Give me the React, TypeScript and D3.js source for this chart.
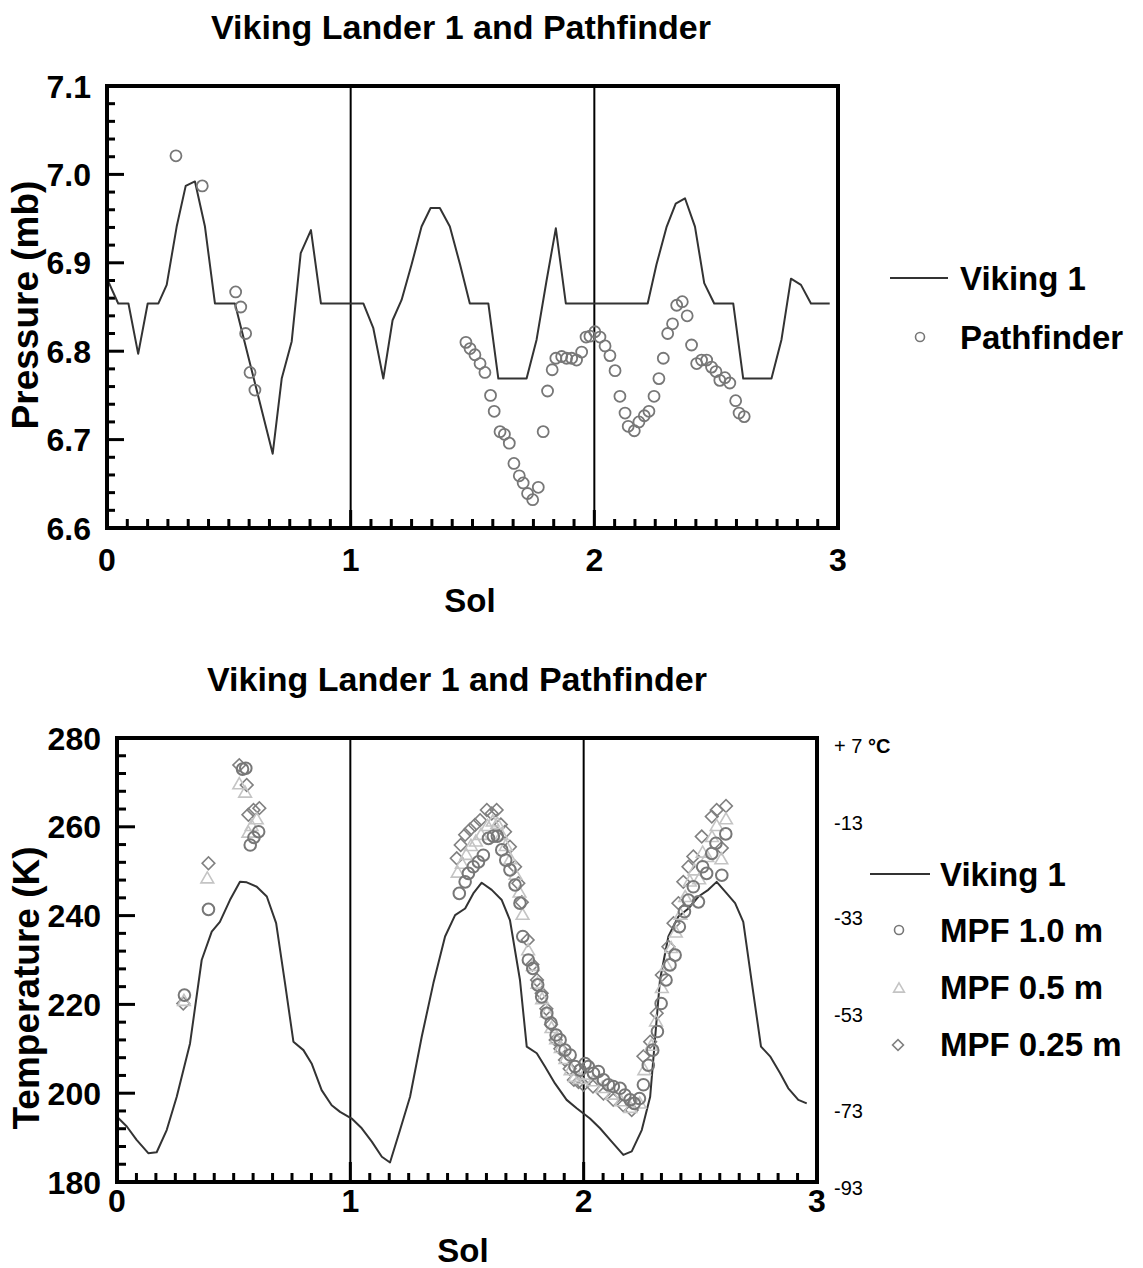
import React from 'react';
import * as d3 from 'd3';

// ---------- data ----------
const solTicks = [0, 1, 2, 3];
const pressureTicks = [6.6, 6.7, 6.8, 6.9, 7.0, 7.1];
const tempTicks = [180, 200, 220, 240, 260, 280];
const celsiusLabels = ['+ 7', '-13', '-33', '-53', '-73', '-93'];
const celsiusAnchorK = [276.6, 259.3, 237.9, 216.0, 194.4, 177.1];

const vikingPressure: [number, number][] = [
  [0, 6.882], [0.046, 6.854], [0.088, 6.854], [0.128, 6.797], [0.167, 6.854], [0.211, 6.854],
  [0.245, 6.875], [0.286, 6.941], [0.323, 6.987], [0.361, 6.992], [0.402, 6.941], [0.443, 6.854],
  [0.525, 6.854], [0.68, 6.684], [0.717, 6.769], [0.758, 6.811], [0.795, 6.911], [0.837, 6.937],
  [0.878, 6.854], [1.052, 6.854], [1.093, 6.826], [1.134, 6.769], [1.172, 6.835], [1.209, 6.858],
  [1.25, 6.898], [1.291, 6.941], [1.328, 6.962], [1.366, 6.962], [1.407, 6.941], [1.449, 6.898],
  [1.489, 6.854], [1.565, 6.854], [1.606, 6.769], [1.722, 6.769], [1.763, 6.813], [1.804, 6.88],
  [1.842, 6.939], [1.883, 6.854], [2.219, 6.854], [2.255, 6.898], [2.297, 6.941], [2.334, 6.967],
  [2.372, 6.973], [2.413, 6.941], [2.451, 6.877], [2.492, 6.854], [2.57, 6.854], [2.611, 6.769],
  [2.727, 6.769], [2.768, 6.813], [2.807, 6.882], [2.848, 6.875], [2.889, 6.854], [2.966, 6.854],
];

const pathfinderPressure: [number, number][] = [
  [0.283, 7.021], [0.391, 6.987], [0.528, 6.867], [0.549, 6.85], [0.569, 6.82], [0.587, 6.776], [0.607, 6.756],
  [1.473, 6.81], [1.49, 6.803], [1.51, 6.796], [1.531, 6.786], [1.551, 6.776], [1.574, 6.75], [1.589, 6.732],
  [1.613, 6.709], [1.631, 6.706], [1.651, 6.696], [1.67, 6.673], [1.692, 6.659], [1.708, 6.651], [1.726, 6.639],
  [1.747, 6.632], [1.77, 6.646], [1.79, 6.709], [1.808, 6.755], [1.827, 6.779], [1.842, 6.792], [1.866, 6.794],
  [1.886, 6.792], [1.907, 6.792], [1.927, 6.79], [1.948, 6.799], [1.966, 6.816], [1.982, 6.817], [2.002, 6.822],
  [2.023, 6.816], [2.044, 6.806], [2.064, 6.795], [2.085, 6.778], [2.105, 6.749], [2.126, 6.73], [2.139, 6.715],
  [2.164, 6.71], [2.183, 6.72], [2.205, 6.727], [2.224, 6.732], [2.245, 6.749], [2.265, 6.769], [2.283, 6.792],
  [2.301, 6.82], [2.321, 6.831], [2.338, 6.852], [2.361, 6.856], [2.381, 6.84], [2.399, 6.807], [2.42, 6.786],
  [2.44, 6.79], [2.461, 6.79], [2.481, 6.782], [2.499, 6.777], [2.515, 6.767], [2.536, 6.77], [2.556, 6.764],
  [2.58, 6.744], [2.594, 6.73], [2.615, 6.726],
];

const vikingTemp: [number, number][] = [
  [0, 194.7], [0.042, 192.5], [0.084, 189.5], [0.134, 186.5], [0.17, 186.7], [0.213, 191.7], [0.256, 199.2],
  [0.313, 211.2], [0.363, 230.0], [0.406, 236.4], [0.441, 238.6], [0.484, 243.5], [0.527, 247.6], [0.556, 247.5],
  [0.599, 246.5], [0.642, 244.3], [0.682, 238.3], [0.72, 224.8], [0.756, 211.6], [0.799, 209.7], [0.834, 206.7],
  [0.877, 200.7], [0.92, 197.3], [0.956, 195.8], [1.006, 194.3], [1.049, 192.1], [1.092, 189.1], [1.135, 185.7],
  [1.17, 184.4], [1.213, 191.7], [1.256, 199.2], [1.306, 212.7], [1.356, 224.8], [1.406, 235.3], [1.449, 240.1],
  [1.492, 241.6], [1.527, 245.0], [1.563, 247.4], [1.606, 245.8], [1.649, 243.5], [1.684, 239.0], [1.727, 225.5],
  [1.756, 210.5], [1.799, 209.0], [1.834, 206.0], [1.877, 202.2], [1.927, 198.5], [1.97, 196.6], [2.027, 194.3],
  [2.07, 192.1], [2.12, 189.1], [2.17, 186.1], [2.206, 186.9], [2.249, 191.7], [2.285, 199.2], [2.327, 225.5],
  [2.363, 235.3], [2.406, 239.8], [2.449, 241.6], [2.492, 244.3], [2.534, 245.8], [2.57, 247.6], [2.613, 245.0],
  [2.649, 242.8], [2.684, 238.6], [2.721, 224.8], [2.76, 210.5], [2.799, 208.3], [2.842, 204.5], [2.877, 201.1],
  [2.92, 198.5], [2.956, 197.7],
];

const mpf100: [number, number][] = [
  [0.289, 222.1], [0.392, 241.4], [0.538, 273.0], [0.552, 273.2], [0.571, 255.9], [0.587, 257.6], [0.607, 258.9],
  [1.467, 245.0], [1.492, 247.6], [1.506, 249.5], [1.527, 251.0], [1.549, 252.1], [1.57, 253.6], [1.592, 257.4],
  [1.613, 257.9], [1.63, 257.9], [1.649, 254.8], [1.666, 252.5], [1.684, 250.3], [1.706, 246.9], [1.727, 242.8],
  [1.739, 235.3], [1.763, 230.0], [1.782, 228.1], [1.803, 224.4], [1.82, 221.7], [1.842, 218.0], [1.86, 215.8],
  [1.882, 213.1], [1.899, 212.0], [1.92, 209.7], [1.942, 208.6], [1.963, 206.0], [1.985, 205.2], [2.006, 206.7],
  [2.02, 206.0], [2.042, 204.5], [2.063, 204.9], [2.085, 203.0], [2.106, 201.9], [2.127, 201.5], [2.156, 201.1],
  [2.177, 199.6], [2.199, 198.5], [2.217, 197.7], [2.239, 198.8], [2.256, 201.9], [2.277, 206.3], [2.296, 209.7],
  [2.316, 213.9], [2.332, 220.2], [2.353, 225.5], [2.37, 228.9], [2.392, 231.1], [2.41, 237.5], [2.432, 240.9],
  [2.449, 243.5], [2.47, 246.5], [2.492, 243.1], [2.51, 251.0], [2.527, 249.5], [2.549, 254.0], [2.567, 256.3],
  [2.592, 249.1], [2.609, 258.4],
];

const mpf050: [number, number][] = [
  [0.287, 220.6], [0.387, 248.2], [0.524, 269.4], [0.549, 267.5], [0.563, 258.5], [0.577, 260.0], [0.599, 261.5],
  [1.46, 249.5], [1.478, 251.5], [1.497, 253.5], [1.517, 255.5], [1.538, 256.5], [1.56, 258.0], [1.588, 260.0],
  [1.61, 261.0], [1.63, 260.5], [1.648, 258.0], [1.666, 255.5], [1.686, 252.5], [1.708, 249.0], [1.725, 245.0],
  [1.738, 240.0], [1.762, 232.0], [1.782, 228.5], [1.802, 224.5], [1.822, 221.0], [1.842, 218.0], [1.862, 214.5],
  [1.882, 212.0], [1.902, 210.0], [1.922, 207.5], [1.944, 205.0], [1.962, 203.5], [1.982, 203.0], [2.002, 204.0],
  [2.04, 202.5], [2.08, 201.0], [2.12, 199.5], [2.16, 198.0], [2.2, 196.5], [2.24, 197.5], [2.26, 205.0],
  [2.29, 210.5], [2.31, 216.0], [2.335, 223.5], [2.355, 228.5], [2.375, 232.5], [2.395, 236.0], [2.415, 240.0],
  [2.435, 244.0], [2.455, 247.5], [2.475, 250.0], [2.495, 248.0], [2.51, 254.0], [2.53, 253.0], [2.55, 257.5],
  [2.57, 260.0], [2.59, 252.5], [2.61, 261.5],
];

const mpf025: [number, number][] = [
  [0.284, 220.2], [0.392, 251.8], [0.524, 273.9], [0.556, 269.4], [0.563, 262.7], [0.585, 263.8], [0.61, 264.2],
  [1.456, 252.9], [1.473, 255.9], [1.492, 258.2], [1.513, 259.4], [1.534, 260.4], [1.556, 261.5], [1.585, 263.8],
  [1.606, 263.0], [1.627, 263.8], [1.645, 260.5], [1.663, 258.9], [1.684, 255.5], [1.706, 251.0], [1.72, 247.3],
  [1.735, 243.0], [1.76, 234.5], [1.78, 229.0], [1.8, 225.5], [1.82, 222.5], [1.84, 219.0], [1.86, 215.5],
  [1.88, 212.0], [1.9, 210.0], [1.92, 207.5], [1.94, 205.5], [1.958, 203.0], [1.978, 202.5], [1.999, 201.9],
  [2.04, 201.5], [2.085, 199.9], [2.127, 198.5], [2.17, 197.3], [2.206, 196.2], [2.256, 208.3], [2.285, 211.6],
  [2.313, 218.0], [2.335, 226.6], [2.363, 233.0], [2.385, 238.3], [2.406, 242.8], [2.427, 247.6], [2.449, 251.0],
  [2.47, 253.3], [2.506, 257.8], [2.549, 262.3], [2.57, 263.8], [2.592, 255.2], [2.61, 264.7],
];

// ---------- helpers ----------
const FONT = "'Liberation Sans', Arial, Helvetica, sans-serif";
const range = (a: number, b: number, step: number) => d3.range(a, b + step / 2, step).map((v) => +v.toFixed(4));

export default function App() {
  // top chart scales
  const xT = d3.scaleLinear().domain([0, 3]).range([107, 838]);
  const yT = d3.scaleLinear().domain([6.6, 7.1]).range([528, 86]);
  // bottom chart scales
  const xB = d3.scaleLinear().domain([0, 3]).range([117, 817]);
  const yB = d3.scaleLinear().domain([180, 280]).range([1182, 738]);

  const lineT = d3.line<[number, number]>().x((d) => xT(d[0])).y((d) => yT(d[1]));
  const lineB = d3.line<[number, number]>().x((d) => xB(d[0])).y((d) => yB(d[1]));

  const triPath = d3.symbol().type(d3.symbolTriangle).size(70)() as string;
  const diaPath = d3.symbol().type(d3.symbolSquare).size(80)() as string;
  const triLegend = d3.symbol().type(d3.symbolTriangle).size(50)() as string;
  const diaLegend = d3.symbol().type(d3.symbolSquare).size(60)() as string;

  const xMinor = range(0, 3, 1 / 12).filter((v) => v > 0 && v < 3);
  const pMinor = range(6.6, 7.1, 0.02).filter((v) => v > 6.6 && v < 7.1);
  const tMinor = range(180, 280, 4).filter((v) => v > 180 && v < 280);

  const isMajorSol = (v: number) => Math.abs(v - Math.round(v)) < 1e-6;
  const isMajorP = (v: number) => Math.abs(v * 10 - Math.round(v * 10)) < 1e-6;
  const isMajorT = (v: number) => v % 20 === 0;

  const textBold = { fontFamily: FONT, fontWeight: 700 as const, fill: '#000' };

  return (
    <svg width={1143} height={1268} style={{ position: 'absolute', left: 0, top: 0, background: '#fff' }}>
      <rect x={0} y={0} width={1143} height={1268} fill="#fff" />

      {/* ================= TOP CHART ================= */}
      <text x={461} y={39} textAnchor="middle" fontSize={34} {...textBold}>Viking Lander 1 and Pathfinder</text>

      {[1, 2].map((s) => (
        <line key={'vt' + s} x1={xT(s)} x2={xT(s)} y1={yT(7.1)} y2={yT(6.6)} stroke="#000" strokeWidth={2} />
      ))}

      {xMinor.map((v) => (
        <line key={'xt' + v} x1={xT(v)} x2={xT(v)} y1={yT(6.6)} y2={yT(6.6) - (isMajorSol(v) ? 18 : 9)} stroke="#000" strokeWidth={3} />
      ))}
      {pMinor.map((v) => (
        <line key={'yt' + v} x1={xT(0)} x2={xT(0) + (isMajorP(v) ? 17 : 8)} y1={yT(v)} y2={yT(v)} stroke="#000" strokeWidth={3} />
      ))}

      <path d={lineT(vikingPressure) as string} fill="none" stroke="#333" strokeWidth={2} strokeLinejoin="round" />

      {pathfinderPressure.map((d, i) => (
        <circle key={'pp' + i} cx={xT(d[0])} cy={yT(d[1])} r={5.5} fill="none" stroke="#777" strokeWidth={1.8} />
      ))}

      <rect x={xT(0)} y={yT(7.1)} width={xT(3) - xT(0)} height={yT(6.6) - yT(7.1)} fill="none" stroke="#000" strokeWidth={4} />

      {pressureTicks.map((v) => (
        <text key={'pl' + v} x={91} y={yT(v) + 11.5} textAnchor="end" fontSize={32} {...textBold}>{v.toFixed(1)}</text>
      ))}
      {solTicks.map((v) => (
        <text key={'sl' + v} x={xT(v)} y={571} textAnchor="middle" fontSize={32} {...textBold}>{v}</text>
      ))}
      <text x={470} y={612} textAnchor="middle" fontSize={33} {...textBold}>Sol</text>
      <text transform="translate(38,305) rotate(-90)" textAnchor="middle" fontSize={37} {...textBold}>Pressure (mb)</text>

      <line x1={890} x2={948} y1={278} y2={278} stroke="#333" strokeWidth={2} />
      <text x={960} y={290} fontSize={33} {...textBold}>Viking 1</text>
      <circle cx={920} cy={337} r={4.5} fill="none" stroke="#777" strokeWidth={1.6} />
      <text x={960} y={349} fontSize={33} {...textBold}>Pathfinder</text>

      {/* ================= BOTTOM CHART ================= */}
      <text x={457} y={691} textAnchor="middle" fontSize={34} {...textBold}>Viking Lander 1 and Pathfinder</text>

      {[1, 2].map((s) => (
        <line key={'vb' + s} x1={xB(s)} x2={xB(s)} y1={yB(280)} y2={yB(180)} stroke="#000" strokeWidth={2} />
      ))}
      {xMinor.map((v) => (
        <line key={'xb' + v} x1={xB(v)} x2={xB(v)} y1={yB(180)} y2={yB(180) - (isMajorSol(v) ? 20 : 9)} stroke="#000" strokeWidth={3} />
      ))}
      {tMinor.map((v) => (
        <line key={'tb' + v} x1={xB(0)} x2={xB(0) + (isMajorT(v) ? 18 : 9)} y1={yB(v)} y2={yB(v)} stroke="#000" strokeWidth={3} />
      ))}

      <path d={lineB(vikingTemp) as string} fill="none" stroke="#333" strokeWidth={2} strokeLinejoin="round" />

      {mpf025.map((d, i) => (
        <path key={'d' + i} d={diaPath} transform={`translate(${xB(d[0])},${yB(d[1])}) rotate(45)`} fill="none" stroke="#808080" strokeWidth={1.6} />
      ))}
      {mpf050.map((d, i) => (
        <path key={'t' + i} d={triPath} transform={`translate(${xB(d[0])},${yB(d[1])})`} fill="none" stroke="#c4c4c4" strokeWidth={1.6} />
      ))}
      {mpf100.map((d, i) => (
        <circle key={'c' + i} cx={xB(d[0])} cy={yB(d[1])} r={5.8} fill="none" stroke="#777" strokeWidth={2} />
      ))}

      <rect x={xB(0)} y={yB(280)} width={xB(3) - xB(0)} height={yB(180) - yB(280)} fill="none" stroke="#000" strokeWidth={4} />

      {tempTicks.map((v) => (
        <text key={'tl' + v} x={101} y={yB(v) + 11.5} textAnchor="end" fontSize={32} {...textBold}>{v}</text>
      ))}
      {solTicks.map((v) => (
        <text key={'sb' + v} x={xB(v)} y={1212} textAnchor="middle" fontSize={32} {...textBold}>{v}</text>
      ))}
      <text x={463} y={1262} textAnchor="middle" fontSize={33} {...textBold}>Sol</text>
      <text transform="translate(39,988) rotate(-90)" textAnchor="middle" fontSize={37} {...textBold}>Temperature (K)</text>

      {celsiusLabels.map((lab, i) => (
        <text key={'cl' + i} x={834} y={yB(celsiusAnchorK[i])} fontSize={20} fontFamily={FONT} fill="#000">
          {lab}
          {i === 0 ? <tspan fontWeight={700}> °C</tspan> : null}
        </text>
      ))}

      <line x1={870} x2={930} y1={874} y2={874} stroke="#333" strokeWidth={2} />
      <text x={940} y={886} fontSize={33} {...textBold}>Viking 1</text>
      <circle cx={899} cy={930} r={4.5} fill="none" stroke="#777" strokeWidth={1.6} />
      <text x={940} y={942} fontSize={33} {...textBold}>MPF 1.0 m</text>
      <path d={triLegend} transform="translate(899,989)" fill="none" stroke="#c4c4c4" strokeWidth={1.6} />
      <text x={940} y={999} fontSize={33} {...textBold}>MPF 0.5 m</text>
      <path d={diaLegend} transform="translate(898,1045) rotate(45)" fill="none" stroke="#808080" strokeWidth={1.6} />
      <text x={940} y={1056} fontSize={33} {...textBold}>MPF 0.25 m</text>
    </svg>
  );
}
